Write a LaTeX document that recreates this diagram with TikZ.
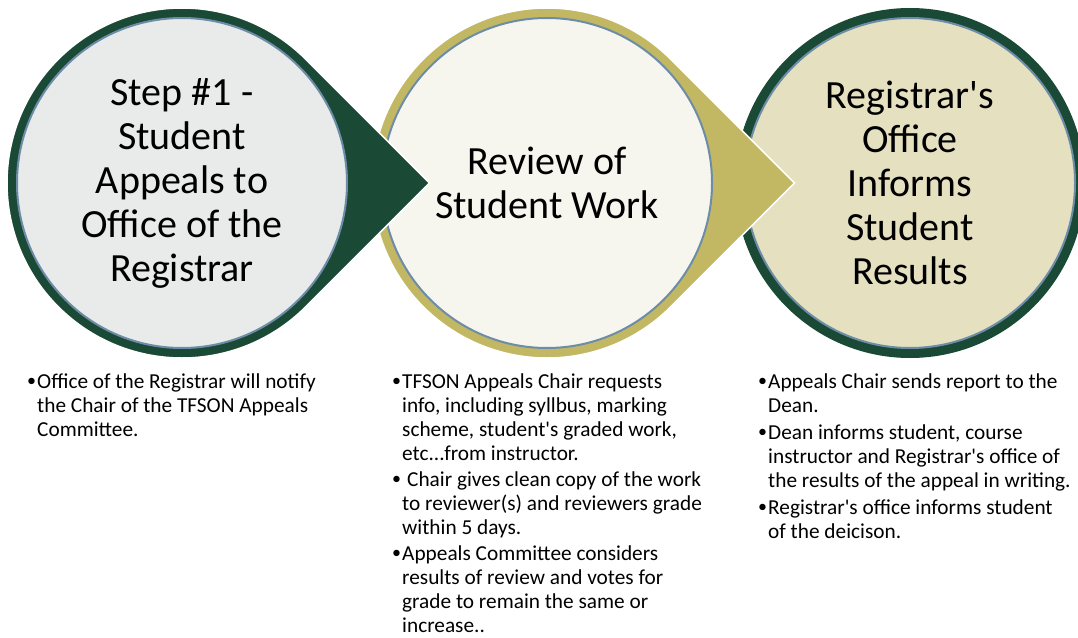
\documentclass[tikz,border=0pt]{standalone}
\usepackage{fontspec}
\setmainfont{Carlito}[Ligatures=TeXOff]
\usepackage{tikz}
\definecolor{ringgreen}{HTML}{1A4A36}
\definecolor{ringgold}{HTML}{C2B762}
\definecolor{edgeblue}{HTML}{6D8CA8}
\definecolor{fillgrey}{HTML}{E8EBE9}
\definecolor{fillcream}{HTML}{F6F6EF}
\definecolor{filltan}{HTML}{E5E0C0}
\newcommand{\dotmark}{\raisebox{1.2pt}{\fontsize{18}{24}\selectfont •}}

\begin{document}
\begin{tikzpicture} [x = 1pt, y = -1pt,
  drop/.style = {draw = white, line width = 1.5pt},
  disc/.style = {circle, minimum size = 330pt, inner sep = 0pt, draw = edgeblue, line width = 2pt, align = center, font = \fontsize{40}{44}\selectfont},
  points/.style = {anchor = north west, inner sep = 0pt, font = \fontsize{21.3}{24}\selectfont}]
\useasboundingbox (0,0) rectangle (1078,637);
\coordinate (o1) at (182,183);
\coordinate (o2) at (547,183);
\coordinate (o3) at (910,183);
% last step first, so that each arrow tip lies over the next circle
\fill[ringgreen] (o3) circle[radius = 175];
\node[disc, fill = filltan] (c3) at (o3) {Registrar's\\Office\\Informs\\Student\\Results};
\filldraw[drop, fill = ringgold, shift = {(o2)}] (247.5,0) -- (45:175) arc[start angle = 45, end angle = 315, radius = 175] -- cycle;
\node[disc, fill = fillcream] (c2) at (o2) {Review of\\Student Work};
\filldraw[drop, fill = ringgreen, shift = {(o1)}] (247.5,0) -- (45:175) arc[start angle = 45, end angle = 315, radius = 175] -- cycle;
\node[disc, fill = fillgrey] (c1) at (o1) {Step \#1 -\\Student\\Appeals to\\Office of the\\Registrar};
% bullet lists
\node[points] (n1) at (27,371) {\begin{tabular}{@{}p{10pt}@{}l@{}}
\dotmark & Office of the Registrar will notify\\
  & the Chair of the TFSON Appeals\\
  & Committee.
\end{tabular}};
\node[points] (n2) at (392,371) {\begin{tabular}{@{}p{10pt}@{}l@{}}
\dotmark & TFSON Appeals Chair requests\\
  & info, including syllbus, marking\\
  & scheme, student's graded work,\\
  & etc...from instructor.\\[2pt]
\dotmark & \hspace{5pt}Chair gives clean copy of the work\\
  & to reviewer(s) and reviewers grade\\
  & within 5 days.\\[2pt]
\dotmark & Appeals Committee considers\\
  & results of review and votes for\\
  & grade to remain the same or\\
  & increase..
\end{tabular}};
\node[points] (n3) at (758,371) {\begin{tabular}{@{}p{10pt}@{}l@{}}
\dotmark & Appeals Chair sends report to the\\
  & Dean.\\[3pt]
\dotmark & Dean informs student, course\\
  & instructor and Registrar's office of\\
  & the results of the appeal in writing.\\[3pt]
\dotmark & Registrar's office informs student\\
  & of the deicison.
\end{tabular}};
\end{tikzpicture}
\end{document}
